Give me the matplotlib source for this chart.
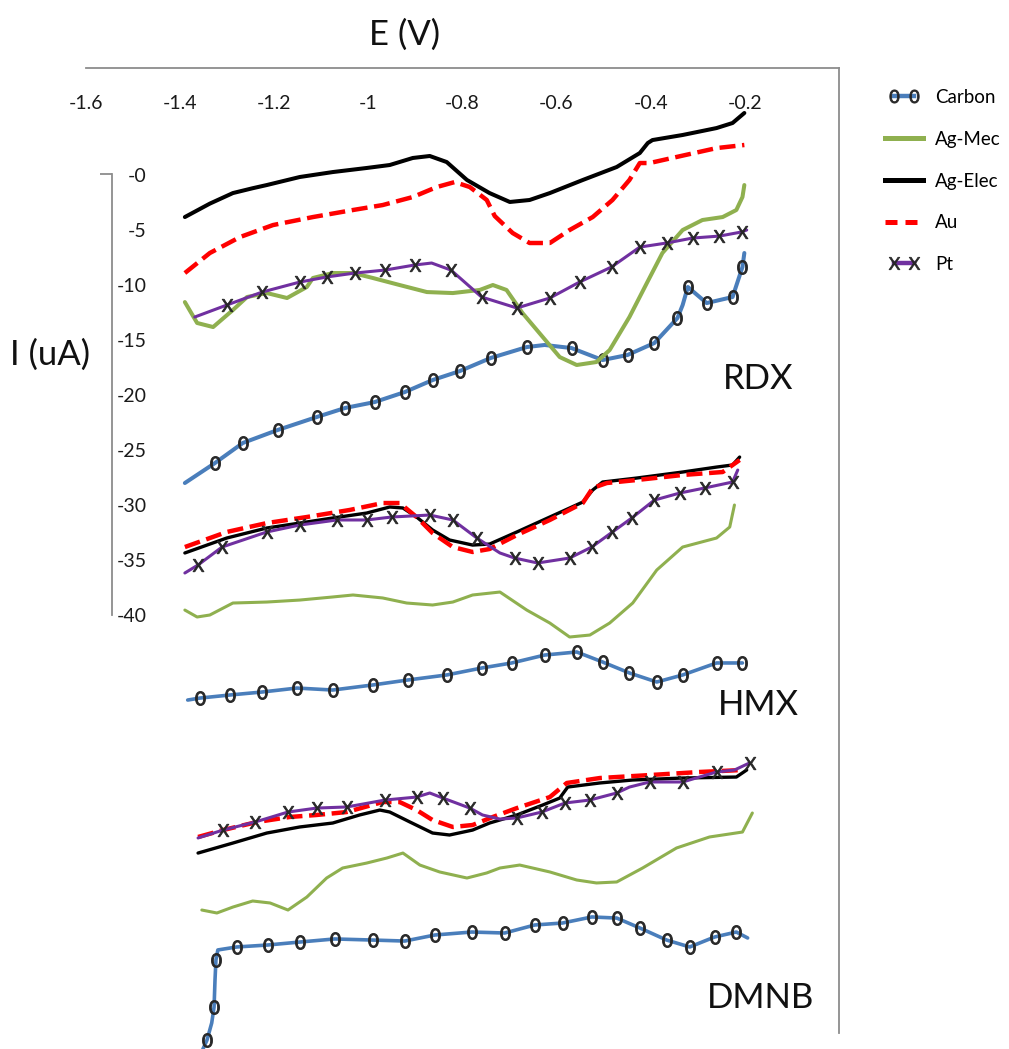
import matplotlib
matplotlib.use('Agg')
import matplotlib.pyplot as plt
from matplotlib.lines import Line2D
from matplotlib.legend_handler import HandlerLine2D

plt.rcParams['font.family'] = ['Lato', 'DejaVu Sans']
plt.rcParams['mathtext.fontset'] = 'custom'
plt.rcParams['mathtext.rm'] = 'Lato'
plt.rcParams['mathtext.it'] = 'Lato:italic'
plt.rcParams['mathtext.bf'] = 'Lato:bold'

# ---------------- data (E in V, I in uA) ----------------
series_names = ['Carbon', 'Ag-Mec', 'Ag-Elec', 'Au', 'Pt']
x_ticks = [-1.6, -1.4, -1.2, -1.0, -0.8, -0.6, -0.4, -0.2]
x_tick_labels = ['-1.6', '-1.4', '-1.2', '-1', '-0.8', '-0.6', '-0.4', '-0.2']
y_ticks = [0, -5, -10, -15, -20, -25, -30, -35, -40]
y_tick_labels = ['-0', '-5', '-10', '-15', '-20', '-25', '-30', '-35', '-40']
analytes = ['RDX', 'HMX', 'DMNB']

# RDX
rdx_carbon_E = [-1.389, -1.325, -1.266, -1.192, -1.109, -1.049, -0.986, -0.922, -0.863, -0.805, -0.740, -0.663,
                -0.625, -0.568, -0.502, -0.449, -0.392, -0.343, -0.332, -0.321, -0.281, -0.226, -0.205, -0.201]
rdx_carbon_I = [-28.0, -26.18, -24.36, -23.18, -22.0, -21.18, -20.64, -19.73, -18.64, -17.82, -16.64, -15.64,
                -15.45, -15.73, -16.82, -16.36, -15.27, -13.0, -11.82, -10.18, -11.64, -11.09, -8.36, -7.09]
rdx_agmec_E = [-1.389, -1.363, -1.329, -1.287, -1.257, -1.215, -1.172, -1.130, -1.117, -1.075, -1.032, -0.990,
               -0.933, -0.875, -0.820, -0.763, -0.735, -0.706, -0.672, -0.629, -0.593, -0.557, -0.515, -0.487,
               -0.445, -0.408, -0.375, -0.332, -0.290, -0.247, -0.218, -0.205, -0.201]
rdx_agmec_I = [-11.55, -13.45, -13.82, -12.27, -11.09, -10.73, -11.18, -10.18, -9.36, -8.91, -8.91, -9.36,
               -10.0, -10.64, -10.73, -10.45, -10.0, -10.45, -12.55, -14.73, -16.55, -17.27, -17.0, -15.91,
               -12.91, -9.82, -7.09, -5.0, -4.09, -3.82, -3.18, -2.0, -0.91]
rdx_agelec_E = [-1.389, -1.336, -1.287, -1.245, -1.215, -1.145, -1.075, -1.003, -0.954, -0.905, -0.869, -0.833,
                -0.790, -0.742, -0.699, -0.657, -0.614, -0.544, -0.472, -0.423, -0.406, -0.396, -0.332, -0.260,
                -0.226, -0.201]
rdx_agelec_I = [-3.82, -2.6, -1.64, -1.2, -0.91, -0.18, 0.27, 0.64, 0.91, 1.55, 1.73, 1.18,
                -0.45, -1.64, -2.45, -2.27, -1.64, -0.45, 0.73, 2.0, 2.91, 3.18, 3.64, 4.27,
                4.73, 5.64]
rdx_au_E = [-1.389, -1.336, -1.272, -1.202, -1.117, -1.032, -0.969, -0.905, -0.854, -0.816, -0.784, -0.748,
            -0.731, -0.693, -0.657, -0.614, -0.572, -0.523, -0.481, -0.445, -0.423, -0.402, -0.345, -0.260, -0.201]
rdx_au_I = [-8.91, -7.09, -5.64, -4.55, -3.82, -3.18, -2.73, -2.0, -1.09, -0.64, -1.09, -2.27,
            -3.73, -5.27, -6.18, -6.18, -5.0, -3.82, -2.27, -0.45, 1.09, 1.09, 1.64, 2.45, 2.73]
rdx_pt_E = [-1.368, -1.300, -1.225, -1.145, -1.088, -1.028, -0.964, -0.901, -0.865, -0.824, -0.759, -0.684,
            -0.614, -0.551, -0.483, -0.423, -0.366, -0.311, -0.254, -0.207, -0.196]
rdx_pt_I = [-12.91, -11.82, -10.64, -9.73, -9.27, -8.91, -8.64, -8.18, -8.0, -8.64, -11.09, -12.09,
            -11.18, -9.73, -8.36, -6.55, -6.18, -5.73, -5.55, -5.18, -5.0]

# HMX
hmx_carbon_E = [-1.383, -1.357, -1.293, -1.225, -1.151, -1.075, -0.990, -0.916, -0.833, -0.759, -0.695, -0.625,
                -0.557, -0.502, -0.445, -0.387, -0.332, -0.260, -0.205]
hmx_carbon_I = [-47.73, -47.55, -47.27, -47.0, -46.64, -46.82, -46.36, -45.91, -45.45, -44.82, -44.36, -43.64,
                -43.36, -44.27, -45.27, -46.09, -45.45, -44.36, -44.36]
hmx_agmec_E = [-1.389, -1.363, -1.336, -1.287, -1.215, -1.145, -1.075, -1.032, -0.969, -0.918, -0.863, -0.820,
               -0.778, -0.720, -0.663, -0.614, -0.572, -0.529, -0.487, -0.438, -0.387, -0.332, -0.260, -0.232, -0.222]
hmx_agmec_I = [-39.55, -40.18, -40.0, -38.91, -38.82, -38.64, -38.36, -38.18, -38.45, -38.91, -39.09, -38.82,
               -38.18, -37.91, -39.55, -40.73, -42.0, -41.82, -40.73, -38.91, -35.91, -33.82, -33.0, -32.0, -30.0]
hmx_agelec_E = [-1.389, -1.300, -1.215, -1.145, -1.075, -1.003, -0.954, -0.926, -0.897, -0.863, -0.827, -0.778,
                -0.742, -0.684, -0.614, -0.544, -0.523, -0.502, -0.430, -0.332, -0.260, -0.226, -0.211]
hmx_agelec_I = [-34.36, -33.0, -32.09, -31.64, -31.18, -30.73, -30.18, -30.27, -31.09, -32.27, -33.18, -33.64,
                -33.55, -32.45, -31.09, -29.73, -28.64, -27.91, -27.55, -27.0, -26.55, -26.36, -25.64]
hmx_au_E = [-1.389, -1.300, -1.215, -1.130, -1.039, -0.969, -0.933, -0.897, -0.863, -0.820, -0.778, -0.742,
            -0.684, -0.614, -0.544, -0.523, -0.493, -0.430, -0.332, -0.247, -0.211]
hmx_au_I = [-33.82, -32.45, -31.64, -31.09, -30.45, -29.82, -29.82, -31.09, -32.55, -33.82, -34.27, -34.0,
            -32.73, -31.36, -29.82, -28.45, -28.0, -27.73, -27.27, -27.0, -25.91]
hmx_pt_E = [-1.389, -1.361, -1.310, -1.215, -1.145, -1.066, -1.003, -0.950, -0.869, -0.820, -0.769, -0.720,
            -0.689, -0.640, -0.572, -0.525, -0.481, -0.440, -0.392, -0.338, -0.285, -0.226, -0.215]
hmx_pt_I = [-36.18, -35.45, -33.82, -32.45, -31.82, -31.36, -31.36, -31.09, -30.91, -31.36, -33.0, -34.36,
            -34.82, -35.27, -34.82, -33.82, -32.45, -31.18, -29.55, -28.91, -28.45, -27.91, -26.82]

# DMNB
dmnb_carbon_E = [-1.361, -1.342, -1.332, -1.327, -1.325, -1.323, -1.319, -1.279, -1.213, -1.145, -1.071, -0.990,
                 -0.922, -0.858, -0.780, -0.710, -0.646, -0.587, -0.525, -0.472, -0.423, -0.366, -0.317, -0.264,
                 -0.218, -0.194]
dmnb_carbon_I = [-80.45, -78.64, -77.09, -75.64, -73.18, -71.36, -70.45, -70.18, -70.0, -69.73, -69.45, -69.55,
                 -69.64, -69.09, -68.82, -68.91, -68.18, -68.0, -67.45, -67.55, -68.45, -69.55, -70.18, -69.27,
                 -68.82, -69.36]
dmnb_agmec_E = [-1.353, -1.321, -1.287, -1.245, -1.208, -1.170, -1.130, -1.088, -1.054, -1.003, -0.960, -0.926,
                -0.890, -0.848, -0.790, -0.748, -0.720, -0.678, -0.614, -0.557, -0.515, -0.472, -0.417, -0.345,
                -0.275, -0.205, -0.184]
dmnb_agmec_I = [-66.82, -67.09, -66.55, -66.0, -66.18, -66.82, -65.64, -63.91, -63.0, -62.55, -62.09, -61.64,
                -62.73, -63.36, -63.91, -63.45, -63.0, -62.73, -63.36, -64.09, -64.36, -64.27, -63.0, -61.18,
                -60.18, -59.73, -58.0]
dmnb_agelec_E = [-1.361, -1.287, -1.215, -1.145, -1.075, -1.018, -0.975, -0.954, -0.911, -0.863, -0.827, -0.778,
                 -0.742, -0.684, -0.629, -0.593, -0.576, -0.508, -0.438, -0.332, -0.218, -0.196]
dmnb_agelec_I = [-61.64, -60.73, -59.82, -59.27, -58.91, -58.18, -57.73, -57.91, -58.82, -59.82, -60.0, -59.55,
                 -58.91, -58.18, -57.27, -56.64, -55.64, -55.27, -55.0, -54.82, -54.73, -54.09]
dmnb_au_E = [-1.361, -1.308, -1.236, -1.166, -1.109, -1.045, -0.969, -0.933, -0.897, -0.863, -0.820, -0.778,
             -0.735, -0.684, -0.614, -0.578, -0.508, -0.402, -0.296, -0.205]
dmnb_au_I = [-60.18, -59.55, -58.82, -58.36, -58.18, -57.91, -57.0, -57.0, -57.73, -58.64, -59.27, -59.09,
             -58.36, -57.55, -56.55, -55.27, -54.82, -54.55, -54.27, -54.09]
dmnb_pt_E = [-1.361, -1.308, -1.240, -1.170, -1.109, -1.045, -0.964, -0.897, -0.869, -0.841, -0.784, -0.757,
             -0.720, -0.684, -0.631, -0.582, -0.529, -0.472, -0.445, -0.402, -0.332, -0.260, -0.222, -0.190]
dmnb_pt_I = [-60.27, -59.55, -58.82, -57.91, -57.55, -57.45, -56.82, -56.55, -56.18, -56.64, -57.55, -58.18,
             -58.55, -58.45, -57.91, -57.09, -56.82, -56.18, -55.64, -55.18, -55.18, -54.27, -54.09, -53.45]

# label anchor positions (E, I)
analyte_label_E = [-0.171, -0.171, -0.167]
analyte_label_I = [-18.55, -48.2, -74.8]

# ---------------- styles ----------------
C_CARBON = '#4a7ebb'
C_AGMEC = '#8fb04f'
C_AGELEC = '#000000'
C_AU = '#ff0000'
C_PT = '#7030a0'
C_MARK = '#262626'
C_AXIS = '#8c8c8c'

MK_ZERO = r'$\mathrm{0}$'
MK_X = r'$\mathrm{X}$'

W, H = 1009, 1049
fig = plt.figure(figsize=(W / 100, H / 100), dpi=100)
ax = fig.add_axes([85.5 / W, 1 - 1033 / H, (839 - 85.5) / W, (1033 - 68) / H])
ax.set_xlim(-1.6, 0)
ax.set_ylim(-78.0, 9.73)


def draw(E, I, kind, lw, mark=None):
    common = dict(clip_on=False, solid_capstyle='round', solid_joinstyle='round')
    if kind == 'Carbon':
        ax.plot(E, I, color=C_CARBON, lw=lw, marker=MK_ZERO, ms=10,
                mfc=C_MARK, mec=C_MARK, mew=0.7, markevery=mark, **common)
    elif kind == 'Ag-Mec':
        ax.plot(E, I, color=C_AGMEC, lw=lw, **common)
    elif kind == 'Ag-Elec':
        ax.plot(E, I, color=C_AGELEC, lw=lw, **common)
    elif kind == 'Au':
        ax.plot(E, I, color=C_AU, lw=lw, dashes=(3.6, 1.5), clip_on=False)
    elif kind == 'Pt':
        ax.plot(E, I, color=C_PT, lw=lw, marker=MK_X, ms=9,
                mfc=C_MARK, mec=C_MARK, mew=0.6, markevery=mark, **common)


rdx_carbon_mk = list(range(1, 12)) + list(range(13, 18)) + list(range(19, 23))
rdx_pt_mk = list(range(1, 8)) + list(range(9, 20))
hmx_carbon_mk = list(range(1, 19))
hmx_pt_mk = list(range(1, 11)) + list(range(12, 22))
dmnb_carbon_mk = [1, 3, 5] + list(range(7, 25))
dmnb_pt_mk = list(range(1, 8)) + [9, 10] + list(range(13, 18)) + [19, 20, 21, 23]

groups = [
    [(rdx_carbon_E, rdx_carbon_I, 'Carbon', 2.9, rdx_carbon_mk), (rdx_agmec_E, rdx_agmec_I, 'Ag-Mec', 2.9, None),
     (rdx_agelec_E, rdx_agelec_I, 'Ag-Elec', 2.9, None), (rdx_au_E, rdx_au_I, 'Au', 3.2, None),
     (rdx_pt_E, rdx_pt_I, 'Pt', 2.2, rdx_pt_mk)],
    [(hmx_carbon_E, hmx_carbon_I, 'Carbon', 2.6, hmx_carbon_mk), (hmx_agmec_E, hmx_agmec_I, 'Ag-Mec', 2.2, None),
     (hmx_agelec_E, hmx_agelec_I, 'Ag-Elec', 2.4, None), (hmx_au_E, hmx_au_I, 'Au', 3.2, None),
     (hmx_pt_E, hmx_pt_I, 'Pt', 2.2, hmx_pt_mk)],
    [(dmnb_carbon_E, dmnb_carbon_I, 'Carbon', 2.6, dmnb_carbon_mk), (dmnb_agmec_E, dmnb_agmec_I, 'Ag-Mec', 2.2, None),
     (dmnb_agelec_E, dmnb_agelec_I, 'Ag-Elec', 2.4, None), (dmnb_au_E, dmnb_au_I, 'Au', 3.2, None),
     (dmnb_pt_E, dmnb_pt_I, 'Pt', 2.2, dmnb_pt_mk)],
]
for g in groups:
    for E, I, kind, lw, mk in g:
        draw(E, I, kind, lw, mk)

for name, e, i in zip(analytes, analyte_label_E, analyte_label_I):
    ax.text(e, i, name, fontsize=25, ha='center', va='center', color='#111111')

# ---------------- axes styling ----------------
ax.spines['bottom'].set_visible(False)
for s in ['top', 'right', 'left']:
    ax.spines[s].set_color(C_AXIS)
    ax.spines[s].set_linewidth(1.3)
ax.spines['left'].set_position(('data', -1.5438))
ax.spines['left'].set_bounds(-40, 0.1)

ax.xaxis.tick_top()
ax.set_xticks(x_ticks)
ax.set_xticklabels(x_tick_labels)
ax.tick_params(axis='x', which='both', length=0, pad=-32, labelsize=14, labelcolor='#1a1a1a')

ax.set_yticks(y_ticks)
ax.set_yticklabels(y_tick_labels)
ax.tick_params(axis='y', which='major', length=0, pad=-25, labelsize=14, labelcolor='#1a1a1a')
ax.set_yticks([0.1], minor=True)
ax.tick_params(axis='y', which='minor', length=8.5, width=1.3, color=C_AXIS, direction='out')
for lab in ax.get_yticklabels():
    lab.set_horizontalalignment('right')

fig.text(405 / W, 1 - 35 / H, 'E (V)', fontsize=25, ha='center', va='center', color='#111111')
fig.text(50 / W, 1 - 355 / H, 'I (uA)', fontsize=25, ha='center', va='center', color='#111111')

# ---------------- legend ----------------
handles = [
    Line2D([], [], color=C_CARBON, lw=3.2, marker=MK_ZERO, ms=9.5, mfc=C_MARK, mec=C_MARK, mew=0.6),
    Line2D([], [], color=C_AGMEC, lw=3.6),
    Line2D([], [], color=C_AGELEC, lw=3.6),
    Line2D([], [], color=C_AU, lw=3.6, dashes=(2.4, 1.6)),
    Line2D([], [], color=C_PT, lw=3.2, marker=MK_X, ms=9, mfc=C_MARK, mec=C_MARK, mew=0.5),
]
hmap = {handles[0]: HandlerLine2D(numpoints=2, marker_pad=0.8),
        handles[4]: HandlerLine2D(numpoints=2, marker_pad=0.8)}
fig.legend(handles, series_names, loc='upper left', bbox_to_anchor=(879 / W, 1 - 89 / H),
           frameon=False, fontsize=13.5, handlelength=2.65, handletextpad=0.35, labelspacing=1.32,
           borderaxespad=0, borderpad=0, numpoints=2, handler_map=hmap)

fig.savefig('out.png', dpi=100)
